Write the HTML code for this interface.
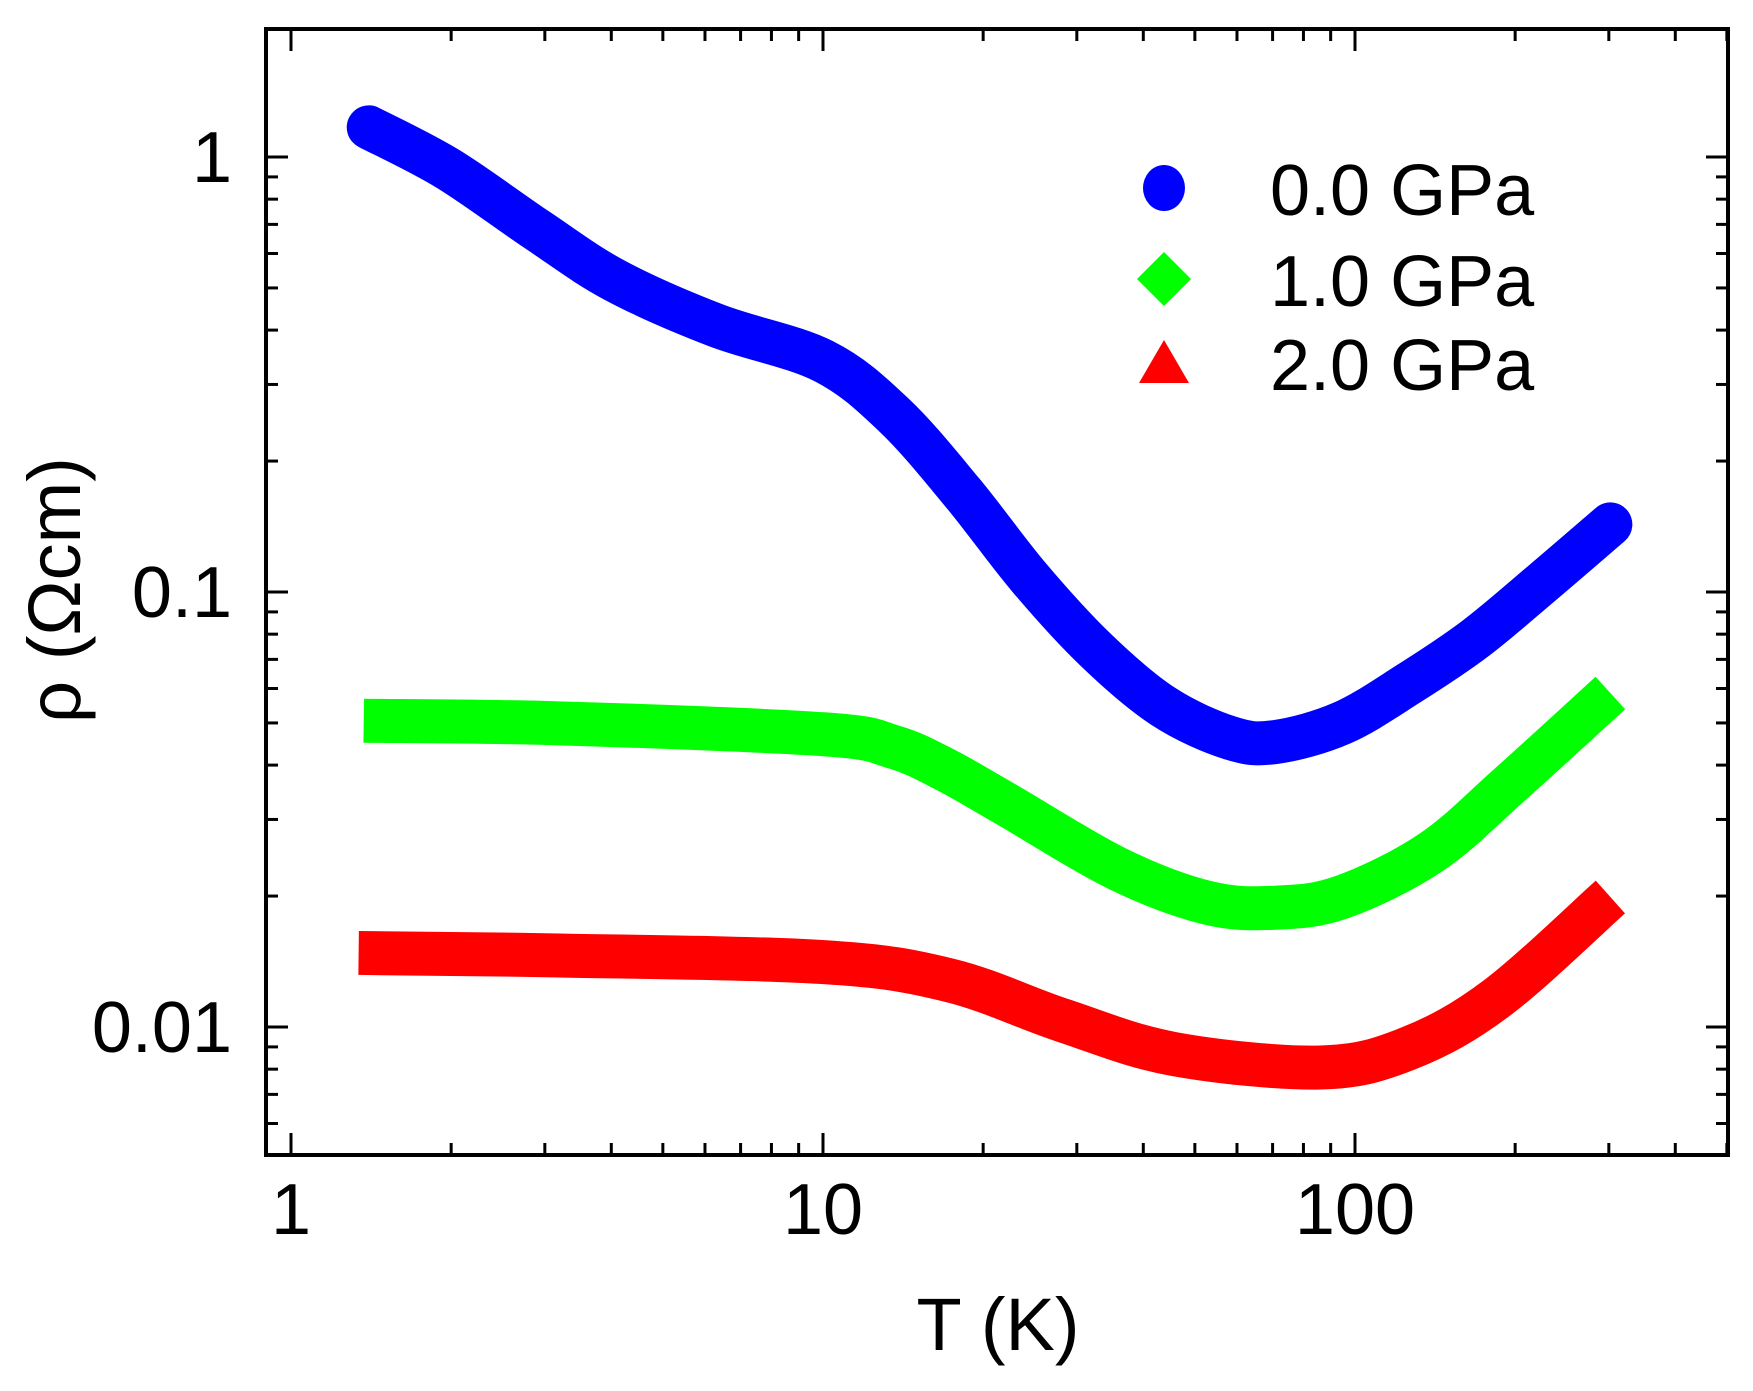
<!DOCTYPE html>
<html><head><meta charset="utf-8"><style>
html,body{margin:0;padding:0;background:#fff;}
svg{display:block;font-family:"Liberation Sans",Arial,sans-serif;}
</style></head><body>
<svg id="chart" width="1753" height="1391" viewBox="0 0 1753 1391" xmlns="http://www.w3.org/2000/svg">
<g id="series"></g>
<rect x="266" y="29" width="1462" height="1126" fill="none" stroke="#000" stroke-width="4"/>
<g id="ticks"></g>
<g id="legend"></g>
<text x="998" y="1350" font-size="74" text-anchor="middle">T (K)</text>
<text transform="translate(80,590) rotate(-90)" font-size="74" text-anchor="middle">ρ (Ωcm)</text>
</svg>
<script>
const seriesNames = ["0.0 GPa","1.0 GPa","2.0 GPa"];
const seriesColors = ["#0000ff","#00ff00","#ff0000"];
const tBlue = [1.4,1.97,2.9,4.07,6.3,10,13.6,18.3,24.4,32.6,43.6,58.2,70.8,94.6,126,168,225,302];
const rhoBlue = [1.17,0.94,0.68,0.52,0.41,0.34,0.255,0.169,0.108,0.0735,0.0546,0.0462,0.0452,0.050,0.0615,0.078,0.105,0.143];
const tGreen = [1.37,3.19,10,13.6,17,22.1,35.8,52.8,70.8,94.6,139,195,302];
const rhoGreen = [0.0506,0.0499,0.0471,0.044,0.039,0.0325,0.0231,0.0193,0.0188,0.0199,0.0252,0.036,0.0586];
const tRed = [1.34,3.19,10,17.3,28.2,45.6,86,126,185,302];
const rhoRed = [0.0148,0.0146,0.0141,0.0128,0.01036,0.00867,0.00807,0.00893,0.01167,0.0199];
const xTickLabels = ["1","10","100"];
const xTickValues = [1,10,100];
const yTickLabels = ["1","0.1","0.01"];
const yTickValues = [1,0.1,0.01];

const NS="http://www.w3.org/2000/svg";
const X0=291, XD=532, Y0=157, YD=435;
const L=266,R=1728,T=29,B=1155;
function xs(v){return X0+Math.log10(v)*XD;}
function ys(v){return Y0-Math.log10(v)*YD;}
function mk(tag,attrs,parent){const e=document.createElementNS(NS,tag);for(const k in attrs)e.setAttribute(k,attrs[k]);parent.appendChild(e);return e;}

function smoothPath(pts){
  let d="M"+pts[0][0]+","+pts[0][1];
  for(let i=0;i<pts.length-1;i++){
    const p0=pts[Math.max(0,i-1)],p1=pts[i],p2=pts[i+1],p3=pts[Math.min(pts.length-1,i+2)];
    const c1=[p1[0]+(p2[0]-p0[0])/6,p1[1]+(p2[1]-p0[1])/6];
    const c2=[p2[0]-(p3[0]-p1[0])/6,p2[1]-(p3[1]-p1[1])/6];
    d+=" C"+c1[0]+","+c1[1]+" "+c2[0]+","+c2[1]+" "+p2[0]+","+p2[1];
  }
  return d;
}
const sg=document.getElementById("series");
const allT=[tBlue,tGreen,tRed], allR=[rhoBlue,rhoGreen,rhoRed], caps=["round","butt","butt"];
for(let s=0;s<3;s++){
  const pts=allT[s].map((t,i)=>[xs(t),ys(allR[s][i])]);
  const p=mk("path",{d:smoothPath(pts),fill:"none",stroke:seriesColors[s],"stroke-width":44,"stroke-linecap":caps[s],"stroke-linejoin":"round"},sg);
  
  
}

const tg=document.getElementById("ticks");
for(let dec=0;dec<3;dec++){
  for(let m=1;m<10;m++){
    const v=m*Math.pow(10,dec); const x=xs(v);
    if(x<L||x>R) continue;
    const len=(m===1)?22:12;
    const a=mk("line",{x1:x,x2:x,y1:B,y2:B-len,stroke:"#000","stroke-width":3},tg);
    
    
    const b=mk("line",{x1:x,x2:x,y1:T,y2:T+len,stroke:"#000","stroke-width":3},tg);
    
    
  }
}
xTickValues.forEach((v,i)=>{
  const t=mk("text",{x:xs(v),y:1234,"font-size":72,"text-anchor":"middle"},tg);
  t.textContent=xTickLabels[i];
  
  
});
for(let dec=-3;dec<1;dec++){
  for(let m=1;m<10;m++){
    const v=m*Math.pow(10,dec); const y=ys(v);
    if(y<T||y>B) continue;
    const len=(m===1)?22:12;
    const a=mk("line",{x1:L,x2:L+len,y1:y,y2:y,stroke:"#000","stroke-width":3},tg);
    
    
    const b=mk("line",{x1:R,x2:R-len,y1:y,y2:y,stroke:"#000","stroke-width":3},tg);
    
    
  }
}
yTickValues.forEach((v,i)=>{
  const t=mk("text",{x:232,y:ys(v)+25,"font-size":72,"text-anchor":"end"},tg);
  t.textContent=yTickLabels[i];
  
  
});

const lg=document.getElementById("legend");
const ly=[188,279,363];
const c=mk("ellipse",{cx:1164,cy:ly[0],rx:21,ry:23,fill:seriesColors[0]},lg);


const dm=mk("polygon",{points:(1164-27)+","+ly[1]+" 1164,"+(ly[1]-27)+" "+(1164+27)+","+ly[1]+" 1164,"+(ly[1]+27),fill:seriesColors[1]},lg);


const tr=mk("polygon",{points:(1164-25)+","+(ly[2]+20)+" 1164,"+(ly[2]-23)+" "+(1164+25)+","+(ly[2]+20),fill:seriesColors[2]},lg);


seriesNames.forEach((n,i)=>{
  const t=mk("text",{x:1270,y:ly[i]+27,"font-size":72},lg);
  t.textContent=n;
  
  
});
</script>
</body></html>
